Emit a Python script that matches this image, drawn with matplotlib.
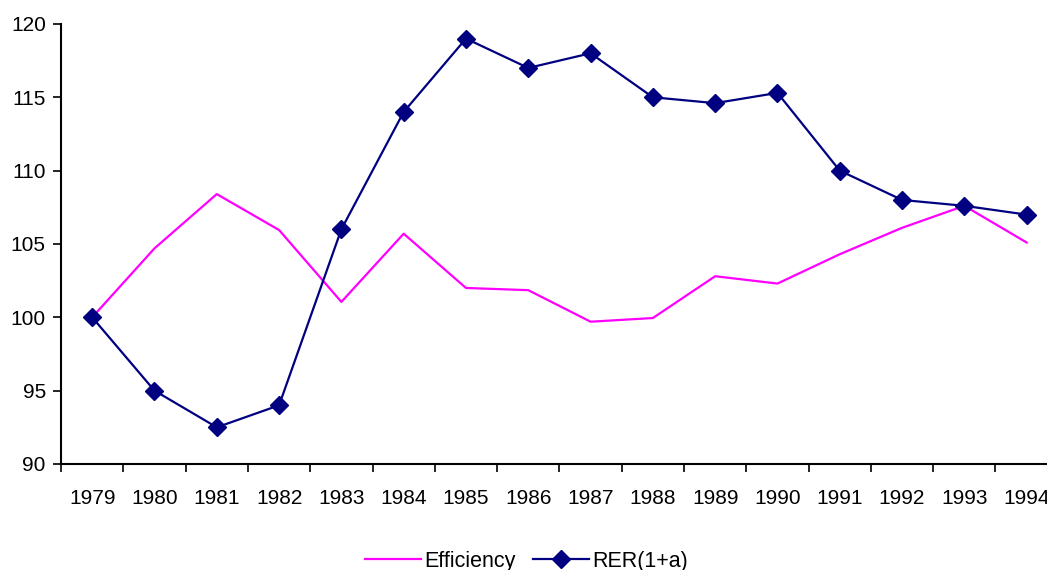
import matplotlib.pyplot as plt
import numpy as np

plt.rcParams['font.family'] = ['Liberation Sans', 'DejaVu Sans']

years = ["1979", "1980", "1981", "1982", "1983", "1984", "1985", "1986",
         "1987", "1988", "1989", "1990", "1991", "1992", "1993", "1994"]
efficiency = [100.0, 104.7, 108.4, 105.95, 101.05, 105.7, 102.0, 101.85,
              99.7, 99.95, 102.8, 102.3, 104.3, 106.1, 107.6, 105.1]
rer = [100.0, 95.0, 92.5, 94.0, 106.0, 114.0, 119.0, 117.0,
       118.0, 115.0, 114.6, 115.3, 110.0, 108.0, 107.6, 107.0]


def generate_graph():
    fig = plt.figure(figsize=(10.47, 5.70), dpi=100)
    # axis runs past the right edge, like the original
    ax = fig.add_axes([0.0583, 0.186, 0.952, 0.772])

    x = np.arange(len(years))
    ax.plot(x, efficiency, color="#FF00FF", linewidth=1.6, label="Efficiency")
    ax.plot(x, rer, color="#000080", linewidth=1.6, marker="D", markersize=9.5,
            label="RER(1+a)")

    ax.set_xlim(-0.5, len(years) - 0.5)
    ax.set_ylim(90, 120)
    ax.set_yticks(np.arange(90, 121, 5))
    ax.set_xticks(np.arange(-0.5, len(years), 1))
    ax.set_xticklabels([])
    ax.set_xticks(x, minor=True)
    ax.set_xticklabels(years, minor=True)
    ax.tick_params(axis="x", which="minor", length=0, pad=18, labelsize=15)
    ax.tick_params(axis="x", which="major", length=6, width=1.2, direction="out")
    ax.tick_params(axis="y", length=6, width=1.2, direction="out", labelsize=15, pad=5)

    for s in ["top", "right"]:
        ax.spines[s].set_visible(False)
    for s in ["left", "bottom"]:
        ax.spines[s].set_linewidth(1.5)

    fig.legend(loc="lower center", bbox_to_anchor=(0.503, -0.037), ncol=2,
               frameon=False, fontsize=15.5, handlelength=2.6, columnspacing=0.8,
               handletextpad=0.15)

    fig.savefig("out.png", dpi=100)


if __name__ == "__main__":
    generate_graph()
